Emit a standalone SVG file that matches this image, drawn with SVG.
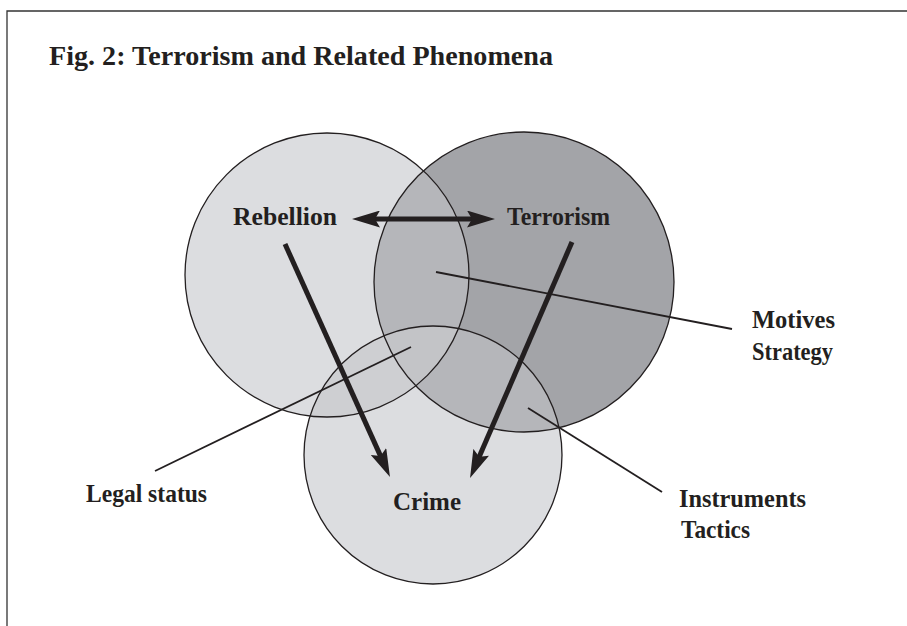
<svg xmlns="http://www.w3.org/2000/svg" width="907" height="626" viewBox="0 0 907 626">
  <style>
    .lbl { font-family: "Liberation Serif", "Times New Roman", serif; font-weight: bold; fill: #231f20; }
    .title { font-size: 27px; }
    .node { font-size: 25px; }
    .outline { fill: none; stroke: #231f20; stroke-width: 1.3; }
    .thin { stroke: #231f20; stroke-width: 1.8; fill: none; }
    .thick { stroke: #231f20; stroke-width: 5; fill: none; marker-end: url(#head); }
    .frame { stroke: #333; stroke-width: 1.3; fill: none; }
  </style>
  <defs>
    <clipPath id="clipR"><circle cx="327" cy="275" r="142"/></clipPath>
    <clipPath id="clipT"><circle cx="524" cy="282" r="150"/></clipPath>
    <marker id="head" markerUnits="userSpaceOnUse" markerWidth="28" markerHeight="17" viewBox="0 0 28 17" refX="12" refY="8.5" orient="auto-start-reverse">
      <path d="M0,0 L28,8.5 L0,17 L5,8.5 Z" fill="#231f20"/>
    </marker>
  </defs>

  <rect width="907" height="626" fill="#ffffff"/>
  <path class="frame" d="M7,626 V11 H907"/>

  <text class="lbl title" x="49" y="65" textLength="504" lengthAdjust="spacingAndGlyphs">Fig. 2:  Terrorism and Related Phenomena</text>

  <g id="fills">
    <circle cx="327" cy="275" r="142" fill="#dcdde0"/>
    <circle cx="433" cy="455" r="129" fill="#dcdde0"/>
    <circle cx="524" cy="282" r="150" fill="#a3a4a8"/>
    <circle cx="327" cy="275" r="142" fill="#b5b6ba" clip-path="url(#clipT)"/>
    <circle cx="433" cy="455" r="129" fill="#b5b6ba" clip-path="url(#clipT)"/>
    <circle cx="433" cy="455" r="129" fill="#cecfd2" clip-path="url(#clipR)"/>
    <g clip-path="url(#clipR)">
      <circle cx="433" cy="455" r="129" fill="#c3c4c7" clip-path="url(#clipT)"/>
    </g>
  </g>

  <g id="rebellion">
    <circle class="outline" cx="327" cy="275" r="142"/>
    <text class="lbl node" x="233" y="225" textLength="104" lengthAdjust="spacingAndGlyphs">Rebellion</text>
  </g>
  <g id="terrorism">
    <circle class="outline" cx="524" cy="282" r="150"/>
    <text class="lbl node" x="507" y="225" textLength="103" lengthAdjust="spacingAndGlyphs">Terrorism</text>
  </g>
  <g id="crime">
    <circle class="outline" cx="433" cy="455" r="129"/>
    <text class="lbl node" x="393" y="510" textLength="68" lengthAdjust="spacingAndGlyphs">Crime</text>
  </g>

  <g id="label-motives">
    <text class="lbl node" x="752" y="328" textLength="83" lengthAdjust="spacingAndGlyphs">Motives</text>
    <text class="lbl node" x="752" y="360" textLength="81" lengthAdjust="spacingAndGlyphs">Strategy</text>
  </g>
  <g id="label-legal">
    <text class="lbl node" x="86" y="502" textLength="121" lengthAdjust="spacingAndGlyphs">Legal status</text>
  </g>
  <g id="label-instruments">
    <text class="lbl node" x="679" y="507" textLength="127" lengthAdjust="spacingAndGlyphs">Instruments</text>
    <text class="lbl node" x="681" y="538" textLength="69" lengthAdjust="spacingAndGlyphs">Tactics</text>
  </g>

  <g id="connectors">
    <line class="thick" x1="368" y1="219" x2="479" y2="219" marker-start="url(#head)"/>
    <line class="thick" x1="285" y1="244" x2="383.4" y2="462.4"/>
    <line class="thick" x1="572" y1="242" x2="476.4" y2="463.3"/>
    <line class="thin" x1="436" y1="272" x2="732" y2="329"/>
    <line class="thin" x1="411" y1="347" x2="155" y2="471"/>
    <line class="thin" x1="528" y1="408" x2="662" y2="492"/>
  </g>
</svg>
